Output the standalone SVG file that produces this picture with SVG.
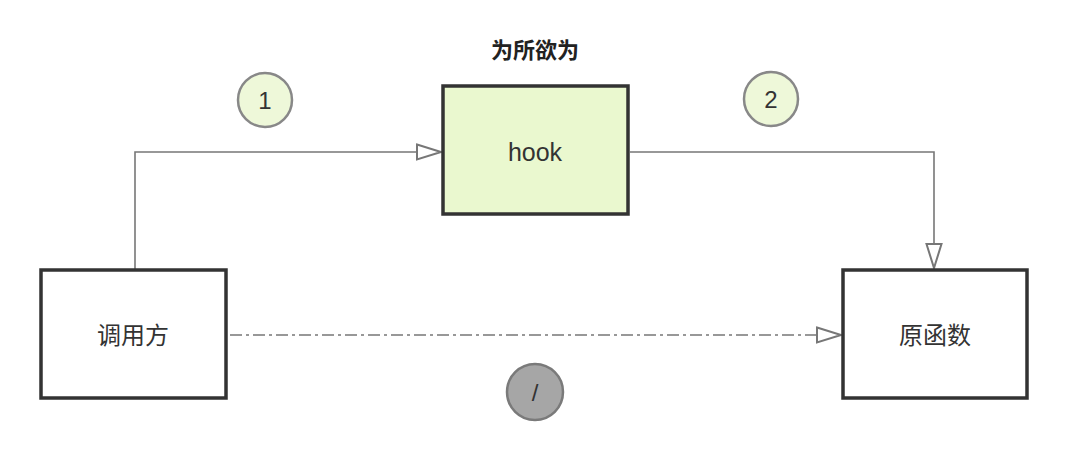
<svg xmlns="http://www.w3.org/2000/svg" width="1080" height="472" viewBox="0 0 1080 472">
<defs>
<marker id="tri" viewBox="0 0 26 18" refX="25" refY="9" markerWidth="26" markerHeight="18" markerUnits="userSpaceOnUse" orient="auto">
<path d="M1,1.5 L25,9 L1,16.5 Z" fill="#fff" stroke="#777" stroke-width="2"/>
</marker>
</defs>
<style>
.box{stroke:#333;stroke-width:3.5}
.lbl{font-family:"Liberation Sans","Noto Sans CJK SC",sans-serif;font-size:24px;fill:#333;text-anchor:middle;dominant-baseline:central}
.conn{fill:none;stroke:#777;stroke-width:1.6}
.num{fill:#eef8d9;stroke:#888;stroke-width:2.5}
</style>
<rect width="1080" height="472" fill="#fff"/>
<g id="connectors">
<path class="conn" d="M135,269 V152 H441" marker-end="url(#tri)"/>
<path class="conn" d="M630,152 H934 V268" marker-end="url(#tri)"/>
<path class="conn" d="M230,335 H841" stroke-dasharray="12,4,3,4" marker-end="url(#tri)"/>
</g>
<g id="title">
<text x="535" y="50" class="lbl" style="font-size:22px;font-weight:bold;fill:#222">为所欲为</text>
</g>
<g id="hook">
<rect class="box" x="443" y="86" width="185" height="128" fill="#eaf8cf"/>
<text x="535" y="152" class="lbl" style="font-size:25px">hook</text>
</g>
<g id="caller">
<rect class="box" x="41" y="270" width="185" height="128" fill="#fff"/>
<text x="133" y="335" class="lbl">调用方</text>
</g>
<g id="original">
<rect class="box" x="843" y="270" width="184" height="128" fill="#fff"/>
<text x="935" y="335" class="lbl">原函数</text>
</g>
<g id="step1">
<circle class="num" cx="265" cy="100" r="27"/>
<text x="265" y="100" class="lbl">1</text>
</g>
<g id="step2">
<circle class="num" cx="771" cy="99" r="27"/>
<text x="771" y="99" class="lbl">2</text>
</g>
<g id="blocked">
<circle cx="535" cy="392" r="28" fill="#a6a6a6" stroke="#7a7a7a" stroke-width="2.5"/>
<text x="535" y="392" class="lbl">/</text>
</g>
</svg>
